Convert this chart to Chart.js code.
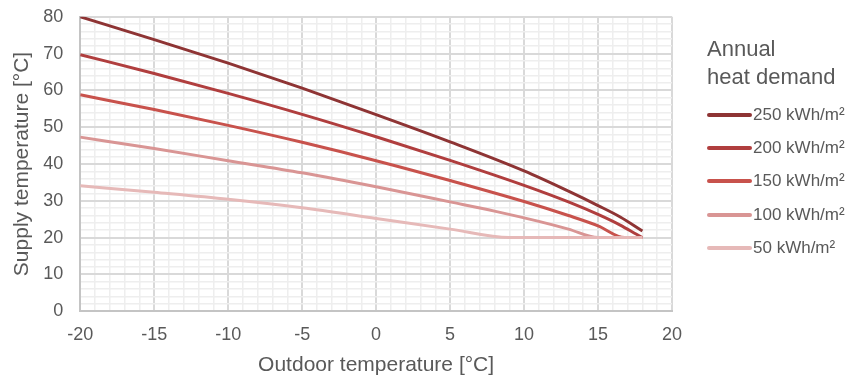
<!DOCTYPE html>
<html>
<head>
<meta charset="utf-8">
<script src="https://cdn.jsdelivr.net/npm/chart.js@4"></script>
<style>
  html, body { margin: 0; padding: 0; background: #fff; }
  #wrap { position: relative; width: 848px; height: 378px; }
  #legend { position: absolute; left: 707px; top: 35px; font-family: 'Liberation Sans', Arial, sans-serif; color: #595959; }
  #legend .title { font-size: 22px; line-height: 28px; margin-bottom: 7px; }
  #legend .item { display: flex; align-items: center; height: 33.4px; font-size: 17px; }
  #legend .swatch { width: 45px; height: 4px; border-radius: 2px; margin-right: 1px; }
</style>
</head>
<body>
<div id="wrap">
  <canvas id="chart" width="848" height="378"></canvas>
  <div id="legend"></div>
</div>
<script>
// Supply temperature vs outdoor temperature, per annual heat demand
const seriesLabels = ['250 kWh/m²', '200 kWh/m²', '150 kWh/m²', '100 kWh/m²', '50 kWh/m²'];
const seriesColors = ['#8e3434', '#b03e3e', '#c8524c', '#d99594', '#e6b9b8'];

const outdoor250 = [-20, -15, -10, -5, 0, 5, 10, 13, 15, 16.5, 18];
const supply250 = [80, 73.8, 67.4, 60.6, 53.4, 46, 38.1, 32.6, 28.7, 25.6, 21.8];

const outdoor200 = [-20, -15, -10, -5, 0, 5, 10, 13, 15, 16.5, 17.6, 18];
const supply200 = [69.7, 64.6, 59.2, 53.5, 47.4, 41, 34.2, 29.7, 26.3, 23.4, 20.9, 20];

const outdoor150 = [-20, -15, -10, -5, 0, 5, 10, 13, 15, 16.8, 18];
const supply150 = [58.8, 54.8, 50.5, 45.9, 40.9, 35.5, 29.8, 26, 23.2, 20, 20];

const outdoor100 = [-20, -15, -10, -5, 0, 5, 8, 11, 13, 15, 18];
const supply100 = [47.3, 44.2, 40.9, 37.6, 33.8, 29.7, 27.2, 24.4, 22.3, 20, 20];

const outdoor50 = [-20, -15, -10, -5, 0, 5, 9, 18];
const supply50 = [34.1, 32.3, 30.4, 28.1, 25.2, 22.3, 20, 20];

const outdoorSets = [outdoor250, outdoor200, outdoor150, outdoor100, outdoor50];
const supplySets = [supply250, supply200, supply150, supply100, supply50];

const textColor = '#595959';
const fontFamily = "'Liberation Sans', Arial, sans-serif";

const datasets = seriesLabels.map((label, i) => ({
  label,
  data: outdoorSets[i].map((x, j) => ({ x, y: supplySets[i][j] })),
  borderColor: seriesColors[i],
  backgroundColor: seriesColors[i],
  borderWidth: 3,
  pointRadius: 0,
  showLine: true,
  cubicInterpolationMode: 'monotone',
  order: -i
}));

const isMajor = ctx => ctx.tick && ctx.tick.value % (ctx.scale.axis === 'x' ? 5 : 10) === 0;
const gridColor = ctx => isMajor(ctx) ? '#d9d9d9' : '#eeeeee';
const gridWidth = ctx => isMajor(ctx) ? 2 : 1.5;

const chart = new Chart(document.getElementById('chart'), {
  type: 'scatter',
  data: { datasets },
  options: {
    responsive: false,
    animation: false,
    layout: { padding: { top: 7, left: 10, right: 176, bottom: 0 } },
    plugins: { legend: { display: false }, tooltip: { enabled: false } },
    scales: {
      x: {
        type: 'linear', min: -20, max: 20,
        grid: { color: gridColor, lineWidth: gridWidth, drawTicks: false },
        border: { color: '#c4c4c4', width: 2 },
        ticks: {
          stepSize: 1, autoSkip: false, maxRotation: 0, padding: 13,
          color: textColor, font: { family: fontFamily, size: 18 },
          callback: v => v % 5 === 0 ? v : ''
        },
        title: { display: true, text: 'Outdoor temperature [°C]', color: textColor, font: { family: fontFamily, size: 21 }, padding: { top: -6, bottom: 0 } }
      },
      y: {
        min: 0, max: 80,
        // invisible tick marks give the label gap without padding the top
        grid: { color: gridColor, lineWidth: gridWidth, drawTicks: true, tickLength: 11, tickColor: 'rgba(0,0,0,0)' },
        border: { color: '#c4c4c4', width: 2 },
        ticks: {
          stepSize: 2, autoSkip: false, padding: 6,
          color: textColor, font: { family: fontFamily, size: 18 },
          callback: v => v % 10 === 0 ? v : ''
        },
        title: { display: true, text: 'Supply temperature [°C]', color: textColor, font: { family: fontFamily, size: 21 }, padding: { top: 0, bottom: 2 } }
      }
    }
  }
});

// HTML legend, built from the chart datasets
const legend = document.getElementById('legend');
legend.innerHTML = '<div class="title">Annual<br>heat demand</div>' +
  chart.data.datasets.map(d => `<div class="item"><span class="swatch" style="background:${d.borderColor}"></span>${d.label}</div>`).join('');
</script>
</body>
</html>
